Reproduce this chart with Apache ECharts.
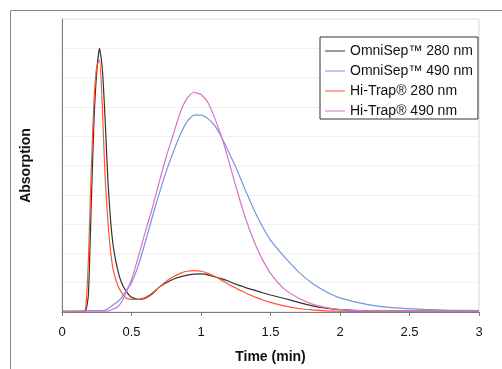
<!DOCTYPE html>
<html>
<head>
<meta charset="utf-8">
<script src="https://cdn.jsdelivr.net/npm/echarts@6/dist/echarts.min.js"></script>
<style>
  html, body { margin: 0; padding: 0; background: #fff; }
  #chart { width: 502px; height: 369px; }
</style>
</head>
<body>
<div id="chart"></div>
<script>
  // time axis (min), shared by all four traces
  const timeMin = [0, 0.15, 0.17, 0.19, 0.21, 0.23, 0.25, 0.27, 0.29, 0.31, 0.33, 0.35, 0.37, 0.40, 0.43, 0.46,
    0.50, 0.55, 0.60, 0.65, 0.70, 0.75, 0.80, 0.85, 0.90, 0.95, 1.00, 1.05, 1.10, 1.15, 1.20, 1.25, 1.30,
    1.35, 1.40, 1.45, 1.50, 1.60, 1.70, 1.80, 1.90, 2.00, 2.20, 2.40, 2.60, 2.80, 3.00];

  const omniSep280 = [0.02, 0.02, 0.03, 0.6, 3.6, 6.5, 8.2, 9.0, 8.3, 6.6, 4.5, 3.1, 2.2, 1.45, 0.98, 0.72,
    0.5, 0.43, 0.47, 0.62, 0.85, 1.0, 1.12, 1.2, 1.26, 1.29, 1.3, 1.27, 1.2, 1.13, 1.05, 0.95, 0.87,
    0.79, 0.72, 0.65, 0.58, 0.46, 0.33, 0.21, 0.13, 0.08, 0.04, 0.03, 0.03, 0.03, 0.03];

  const omniSep490 = [0, 0.03, 0.04, 0.05, 0.05, 0.05, 0.05, 0.05, 0.05, 0.07, 0.12, 0.18, 0.25, 0.35, 0.5, 0.72,
    1.0, 1.6, 2.4, 3.25, 4.05, 4.8, 5.45, 6.05, 6.5, 6.72, 6.72, 6.6, 6.35, 5.95, 5.45, 4.95, 4.38,
    3.82, 3.3, 2.85, 2.45, 1.88, 1.38, 0.98, 0.69, 0.48, 0.25, 0.14, 0.09, 0.06, 0.05];

  const hiTrap280 = [0.02, 0.02, 0.1, 1.8, 4.8, 7.2, 8.4, 8.6, 7.0, 4.6, 3.1, 2.05, 1.4, 0.92, 0.65, 0.48,
    0.43, 0.43, 0.5, 0.65, 0.85, 1.05, 1.2, 1.32, 1.39, 1.41, 1.39, 1.32, 1.21, 1.08, 0.94, 0.82, 0.7,
    0.59, 0.49, 0.4, 0.33, 0.21, 0.12, 0.07, 0.04, 0.03, 0.02, 0.02, 0.02, 0.02, 0.02];

  const hiTrap490 = [0, 0.03, 0.03, 0.03, 0.03, 0.03, 0.03, 0.03, 0.03, 0.03, 0.03, 0.06, 0.1, 0.18, 0.35, 0.65,
    1.1, 1.9, 2.75, 3.55, 4.45, 5.3, 6.05, 6.8, 7.3, 7.5, 7.42, 7.15, 6.6, 5.95, 5.15, 4.3, 3.5,
    2.8, 2.2, 1.72, 1.32, 0.78, 0.48, 0.27, 0.15, 0.08, 0.04, 0.03, 0.03, 0.03, 0.03];

  const seriesNames = ["OmniSep™ 280 nm", "OmniSep™ 490 nm", "Hi-Trap® 280 nm", "Hi-Trap® 490 nm"];
  const seriesValues = [omniSep280, omniSep490, hiTrap280, hiTrap490];
  const colorList = ["#333333", "#7396e0", "#ff5533", "#d572c8"];

  const font = "'Liberation Sans', Arial, sans-serif";

  const makeSeries = (name, values, color) => ({
    name: name,
    type: "line",
    data: timeMin.map((t, i) => [t, values[i]]),
    smooth: 0.2,
    showSymbol: false,
    symbol: "none",
    lineStyle: { width: 1.2, color: color },
    itemStyle: { color: color },
    animation: false,
  });

  const chart = echarts.init(document.getElementById("chart"), null, { renderer: "canvas" });
  chart.setOption({
    animation: false,
    color: colorList,
    textStyle: { fontFamily: font },
    grid: {
      left: 62,
      right: 23,
      top: 19,
      bottom: 57,
      show: true,
      borderColor: "#d6d6d6",
      borderWidth: 1,
      backgroundColor: "#fff",
    },
    graphic: [
      {
        type: "rect",
        shape: { x: 10.5, y: 10.5, width: 600, height: 600 },
        style: { fill: "none", stroke: "#8a8a8a", lineWidth: 1 },
        silent: true,
        z: -1,
      },
    ],
    legend: {
      orient: "vertical",
      left: 320,
      top: 37,
      padding: [7, 5, 1, 5],
      itemGap: 6,
      itemWidth: 20,
      itemHeight: 1,
      itemTextGap: 4,
      icon: "rect",
      borderColor: "#333",
      borderWidth: 1,
      backgroundColor: "#fff",
      textStyle: { fontSize: 14, color: "#111", fontFamily: font },
      data: seriesNames,
    },
    xAxis: {
      type: "value",
      min: 0,
      max: 3,
      interval: 0.5,
      name: "Time (min)",
      nameLocation: "middle",
      nameGap: 38,
      nameTextStyle: { fontSize: 14, fontWeight: "bold", color: "#111", fontFamily: font },
      axisLine: { lineStyle: { color: "#7a7a7a", width: 1 } },
      axisTick: { show: true, length: 4, lineStyle: { color: "#7a7a7a" } },
      axisLabel: { fontSize: 13, color: "#111", margin: 14, fontFamily: font },
      splitLine: { show: false },
    },
    yAxis: {
      type: "value",
      min: 0,
      max: 10,
      interval: 1,
      name: "Absorption",
      nameLocation: "middle",
      nameGap: 29,
      nameTextStyle: { fontSize: 14, fontWeight: "bold", color: "#111", fontFamily: font },
      axisLine: { show: true, lineStyle: { color: "#7a7a7a", width: 1 } },
      axisTick: { show: false },
      axisLabel: { show: false },
      splitLine: { show: true, lineStyle: { color: "#f0f0f0", width: 1 } },
    },
    series: seriesValues.map((vals, i) => makeSeries(seriesNames[i], vals, colorList[i])),
  });
</script>
</body>
</html>
